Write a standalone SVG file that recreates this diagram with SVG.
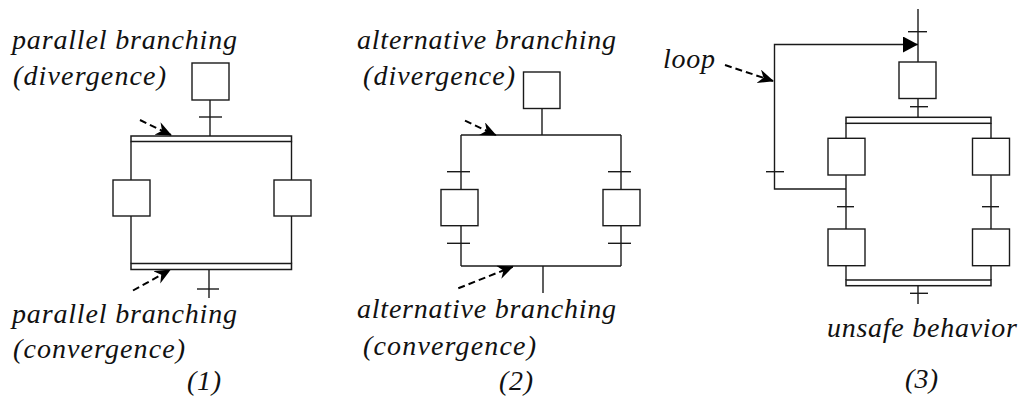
<svg xmlns="http://www.w3.org/2000/svg" width="1022" height="399" viewBox="0 0 1022 399">
<style>
.ln{stroke:#1a1a1a;stroke-width:1.4;fill:none}
.bx{stroke:#1a1a1a;stroke-width:1.4;fill:#fff}
.bar{stroke:#1a1a1a;stroke-width:1.5;fill:#fff}
.da{stroke:#000;stroke-width:2;fill:none;stroke-dasharray:7 4}
.t{font-family:"Liberation Serif","Times New Roman",serif;font-style:italic;font-size:28px;fill:#111}
</style>
<defs>
<marker id="stealth" markerUnits="userSpaceOnUse" markerWidth="18" markerHeight="16" refX="15" refY="7" orient="auto">
<path d="M0,0 L16,7 L0,14 L5,7 Z" fill="#000"/>
</marker>
<marker id="tri" markerUnits="userSpaceOnUse" markerWidth="16" markerHeight="18" refX="15" refY="8" orient="auto">
<path d="M0,0 L15,8 L0,16 Z" fill="#000"/>
</marker>
</defs>

<g id="connectors">
<!-- diagram 1 -->
<line class="ln" x1="210" y1="100" x2="210" y2="136"/>
<line class="ln" x1="199" y1="117" x2="222" y2="117"/>
<line class="ln" x1="131" y1="141.5" x2="131" y2="180"/>
<line class="ln" x1="291.5" y1="141.5" x2="291.5" y2="180"/>
<line class="ln" x1="131" y1="216" x2="131" y2="263.5"/>
<line class="ln" x1="291.5" y1="216" x2="291.5" y2="263.5"/>
<line class="ln" x1="209" y1="269.5" x2="209" y2="298"/>
<line class="ln" x1="197" y1="289" x2="219" y2="289"/>
<line class="da" x1="140" y1="120" x2="171" y2="135" marker-end="url(#stealth)"/>
<line class="da" x1="133" y1="290.5" x2="170" y2="270" marker-end="url(#stealth)"/>
<!-- diagram 2 -->
<line class="ln" x1="542" y1="108.5" x2="542" y2="135"/>
<line class="ln" x1="461" y1="135" x2="621" y2="135"/>
<line class="ln" x1="461" y1="135" x2="461" y2="189.5"/>
<line class="ln" x1="621" y1="135" x2="621" y2="189.5"/>
<line class="ln" x1="447" y1="171.7" x2="470" y2="171.7"/>
<line class="ln" x1="608" y1="171.7" x2="631" y2="171.7"/>
<line class="ln" x1="461" y1="225.7" x2="461" y2="266"/>
<line class="ln" x1="621" y1="225.7" x2="621" y2="266"/>
<line class="ln" x1="447" y1="243.3" x2="470" y2="243.3"/>
<line class="ln" x1="608" y1="243.3" x2="631" y2="243.3"/>
<line class="ln" x1="461" y1="266" x2="621" y2="266"/>
<line class="ln" x1="543" y1="266" x2="543" y2="293"/>
<line class="da" x1="465" y1="120.7" x2="495.7" y2="135" marker-end="url(#stealth)"/>
<line class="da" x1="458.3" y1="288.3" x2="512.7" y2="266.7" marker-end="url(#stealth)"/>
<!-- diagram 3 -->
<line class="ln" x1="918" y1="9" x2="918" y2="62"/>
<line class="ln" x1="908" y1="31.7" x2="927" y2="31.7"/>
<path class="ln" d="M846,189 H774.5 V44.5 H918" marker-end="url(#tri)"/>
<line class="ln" x1="766" y1="171.7" x2="784" y2="171.7"/>
<line class="ln" x1="918" y1="98.5" x2="918" y2="117.3"/>
<line class="ln" x1="910" y1="106.7" x2="928" y2="106.7"/>
<line class="ln" x1="846" y1="123.3" x2="846" y2="138.3"/>
<line class="ln" x1="991" y1="123.3" x2="991" y2="138.3"/>
<line class="ln" x1="846" y1="175" x2="846" y2="229"/>
<line class="ln" x1="991" y1="175" x2="991" y2="229"/>
<line class="ln" x1="837" y1="206.7" x2="854" y2="206.7"/>
<line class="ln" x1="982" y1="206.7" x2="999" y2="206.7"/>
<line class="ln" x1="846" y1="265.7" x2="846" y2="280"/>
<line class="ln" x1="991" y1="265.7" x2="991" y2="280"/>
<line class="ln" x1="918" y1="285.7" x2="918" y2="304"/>
<line class="ln" x1="910" y1="293.3" x2="928" y2="293.3"/>
<line class="da" x1="725" y1="65" x2="773" y2="81" marker-end="url(#stealth)"/>
</g>

<g id="d1-step-top"><rect class="bx" x="192" y="63" width="37" height="37"/></g>
<g id="d1-div-bar"><rect class="bar" x="131" y="136" width="160.5" height="5.5"/></g>
<g id="d1-step-left"><rect class="bx" x="113" y="180" width="37" height="36"/></g>
<g id="d1-step-right"><rect class="bx" x="274" y="180" width="37" height="36"/></g>
<g id="d1-conv-bar"><rect class="bar" x="131" y="263.5" width="160.5" height="6"/></g>

<g id="d2-step-top"><rect class="bx" x="523.5" y="72" width="36.5" height="36.5"/></g>
<g id="d2-step-left"><rect class="bx" x="441" y="189.5" width="37" height="36.2"/></g>
<g id="d2-step-right"><rect class="bx" x="603" y="189.5" width="37" height="36.2"/></g>

<g id="d3-step-top"><rect class="bx" x="899" y="62" width="37" height="36.5"/></g>
<g id="d3-div-bar"><rect class="bar" x="846" y="117.3" width="145" height="6"/></g>
<g id="d3-step-l1"><rect class="bx" x="828" y="138.3" width="37" height="36.7"/></g>
<g id="d3-step-r1"><rect class="bx" x="972.5" y="138.3" width="37" height="36.7"/></g>
<g id="d3-step-l2"><rect class="bx" x="828" y="229" width="37" height="36.7"/></g>
<g id="d3-step-r2"><rect class="bx" x="972.5" y="229" width="37" height="36.7"/></g>
<g id="d3-conv-bar"><rect class="bar" x="846" y="280" width="145" height="5.7"/></g>

<g id="labels">
<text class="t" x="12" y="49" textLength="225" lengthAdjust="spacing">parallel branching</text>
<text class="t" x="13" y="85" textLength="153" lengthAdjust="spacing">(divergence)</text>
<text class="t" x="12" y="323" textLength="225" lengthAdjust="spacing">parallel branching</text>
<text class="t" x="13" y="358" textLength="172" lengthAdjust="spacing">(convergence)</text>
<text class="t" x="187" y="390" textLength="34" lengthAdjust="spacing">(1)</text>
<text class="t" x="357" y="49" textLength="259" lengthAdjust="spacing">alternative branching</text>
<text class="t" x="363" y="85" textLength="152" lengthAdjust="spacing">(divergence)</text>
<text class="t" x="357" y="318" textLength="259" lengthAdjust="spacing">alternative branching</text>
<text class="t" x="363" y="355" textLength="173" lengthAdjust="spacing">(convergence)</text>
<text class="t" x="499" y="390" textLength="34" lengthAdjust="spacing">(2)</text>
<text class="t" x="663" y="68" textLength="52" lengthAdjust="spacing">loop</text>
<text class="t" x="827" y="337" textLength="190" lengthAdjust="spacing">unsafe behavior</text>
<text class="t" x="905" y="388" textLength="33" lengthAdjust="spacing">(3)</text>
</g>
</svg>
